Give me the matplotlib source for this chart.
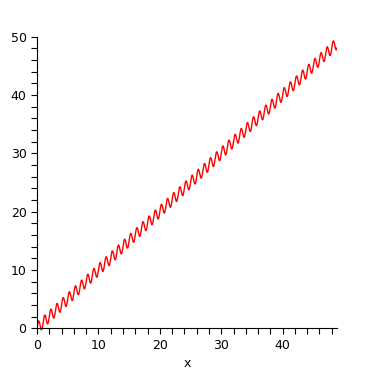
import numpy as np
import matplotlib
matplotlib.use('Agg')
import matplotlib.pyplot as plt

# curve: y = x + amp*sin(2*pi*x/period)
x_start, x_end = 0.0, 48.85
amp = 1.0
period = 1.0
n_samples = 1200

x_ticks = [0, 10, 20, 30, 40]
y_ticks = [0, 10, 20, 30, 40, 50]

x = np.linspace(x_start, x_end, n_samples)
y = x + amp * np.sin(2 * np.pi * x / period)

fig = plt.figure(figsize=(3.74, 3.74), dpi=100)
ax = fig.add_axes([0.099, 0.113, 0.802, 0.789])
ax.plot(x, y, color='red', linewidth=1.0)

ax.set_xlim(0, x_end)
ax.set_ylim(-0.6, 50)
ax.spines['top'].set_visible(False)
ax.spines['right'].set_visible(False)
ax.spines['bottom'].set_position(('data', 0))
ax.spines['left'].set_position(('data', 0))

ax.set_xticks(x_ticks)
ax.set_yticks(y_ticks)
ax.set_xticks(np.arange(0, 49, 2), minor=True)
ax.set_yticks(np.arange(0, 51, 2), minor=True)
ax.tick_params(which='both', direction='out', length=4, width=0.8)
ax.tick_params(labelsize=9)

ax.set_xlabel('x', fontsize=9)
ax.xaxis.set_label_coords(0.5, -0.085)

fig.savefig('out.png', dpi=100)
